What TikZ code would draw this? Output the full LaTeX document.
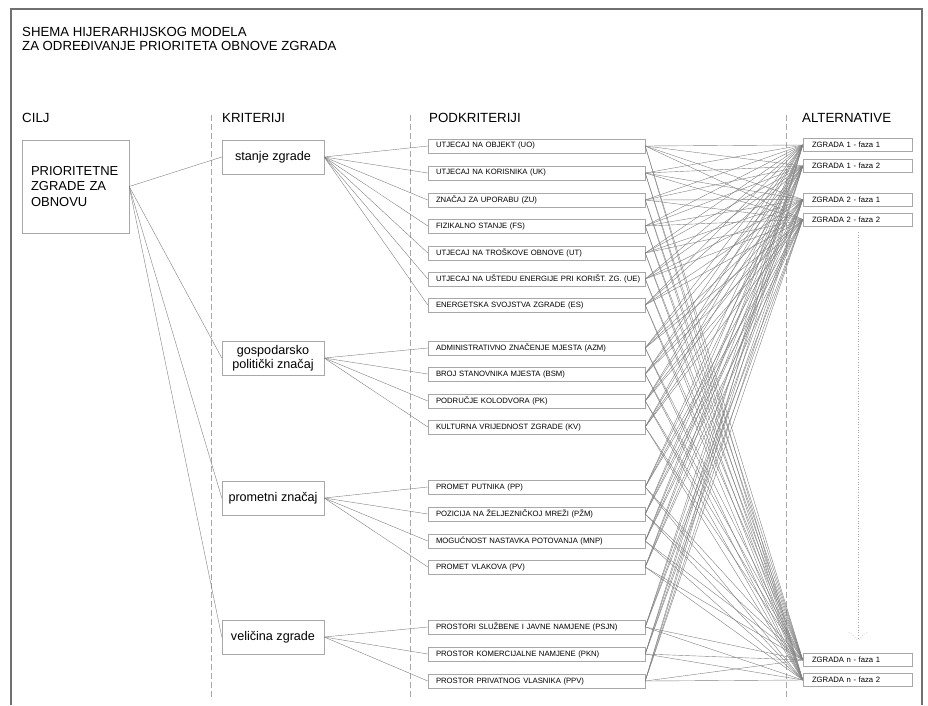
\documentclass[tikz,border=0pt]{standalone}
\usepackage{fontspec}
\setmainfont{Liberation Sans}
\usetikzlibrary{positioning}
\definecolor{frame}{HTML}{707070}
\definecolor{boxline}{HTML}{A8A8A8}
\definecolor{link}{HTML}{808080}
\definecolor{guide}{HTML}{A8A8A8}

\begin{document}
\begin{tikzpicture}[
  x=1pt, y=-1pt,
  ttl/.style={anchor=base west, inner sep=0pt, font=\fontsize{13.2}{14.5}\selectfont},
  hdr/.style={anchor=base west, inner sep=0pt, font=\fontsize{13.3}{14}\selectfont},
  goal/.style={draw=boxline, text width=89pt, inner xsep=9pt, minimum height=93pt,
               align=left, font=\fontsize{13}{15.3}\selectfont},
  crit/.style={draw=boxline, minimum width=102pt, minimum height=34pt, inner sep=0pt,
               align=center, font=\fontsize{12.6}{14}\selectfont},
  sub/.style={draw=boxline, text width=201pt, inner xsep=8pt, inner ysep=0pt,
              minimum height=14pt, align=left, font=\fontsize{7.7}{9}\selectfont},
  alt/.style={draw=boxline, text width=91pt, inner xsep=9pt, inner ysep=0pt,
              minimum height=13pt, align=left, font=\fontsize{7.7}{9}\selectfont},
  lnk/.style={draw=link, line width=0.4pt},
  guideline/.style={guide, line width=0.6pt, dash pattern=on 6pt off 3pt}
]
  \useasboundingbox (0,0) rectangle (928,705);

  % Frame
  \draw[frame, line width=1.3pt] (11,705) -- (11,9) -- (922,9) -- (922,705);

  % Title
  \node[ttl] (title1) at (22,36) {SHEMA HIJERARHIJSKOG MODELA};
  \node[ttl] (title2) at (22,50.5) {ZA ODREĐIVANJE PRIORITETA OBNOVE ZGRADA};

  % Column headers and guides
  \node[hdr] (hcilj) at (22,122.5) {CILJ};
  \node[hdr] (hkrit) at (222,122.5) {KRITERIJI};
  \node[hdr] (hpod) at (429,122.5) {PODKRITERIJI};
  \node[hdr] (halt) at (802,122.5) {ALTERNATIVE};
  \draw[guideline] (211,115) -- (211,697);
  \draw[guideline] (410,115) -- (410,697);
  \draw[guideline] (786,115) -- (786,697);

  % Goal
  \node[goal] (cilj) at (75.5,186.5) {PRIORITETNE\\ZGRADE ZA\\OBNOVU};

  % Criteria
  \node[crit] (stanje) at (273,157) {stanje zgrade};
  \node[crit] (gosp) at (273,358) {gospodarsko\\politički značaj};
  \node[crit] (promet) at (273,498) {prometni značaj};
  \node[crit] (velicina) at (273,637) {veličina zgrade};

  % Subcriteria
  \node[sub] (uo) at (536.5,146) {UTJECAJ NA OBJEKT (UO)};
  \node[sub] (uk) at (536.5,173) {UTJECAJ NA KORISNIKA (UK)};
  \node[sub] (zu) at (536.5,200) {ZNAČAJ ZA UPORABU (ZU)};
  \node[sub] (fs) at (536.5,226) {FIZIKALNO STANJE (FS)};
  \node[sub] (ut) at (536.5,253) {UTJECAJ NA TROŠKOVE OBNOVE (UT)};
  \node[sub] (ue) at (536.5,279) {\mbox{UTJECAJ NA UŠTEDU ENERGIJE PRI KORIŠT. ZG. (UE)}};
  \node[sub] (es) at (536.5,305) {ENERGETSKA SVOJSTVA ZGRADE (ES)};

  \node[sub] (azm) at (536.5,348) {ADMINISTRATIVNO ZNAČENJE MJESTA (AZM)};
  \node[sub] (bsm) at (536.5,374) {BROJ STANOVNIKA MJESTA (BSM)};
  \node[sub] (pk) at (536.5,401) {PODRUČJE KOLODVORA (PK)};
  \node[sub] (kv) at (536.5,427) {KULTURNA VRIJEDNOST ZGRADE (KV)};

  \node[sub] (pp) at (536.5,487) {PROMET PUTNIKA (PP)};
  \node[sub] (pzm) at (536.5,514) {POZICIJA NA ŽELJEZNIČKOJ MREŽI (PŽM)};
  \node[sub] (mnp) at (536.5,541) {MOGUĆNOST NASTAVKA POTOVANJA (MNP)};
  \node[sub] (pv) at (536.5,567) {PROMET VLAKOVA (PV)};

  \node[sub] (psjn) at (536.5,627) {PROSTORI SLUŽBENE I JAVNE NAMJENE (PSJN)};
  \node[sub] (pkn) at (536.5,654) {PROSTOR KOMERCIJALNE NAMJENE (PKN)};
  \node[sub] (ppv) at (536.5,681) {PROSTOR PRIVATNOG VLASNIKA (PPV)};

  % Alternatives
  \node[alt] (z1a) at (857.5,145) {ZGRADA 1 - faza 1};
  \node[alt] (z1b) at (857.5,166) {ZGRADA 1 - faza 2};
  \node[alt] (z2a) at (857.5,199.5) {ZGRADA 2 - faza 1};
  \node[alt] (z2b) at (857.5,219.5) {ZGRADA 2 - faza 2};
  \node[alt] (zna) at (857.5,660) {ZGRADA n - faza 1};
  \node[alt] (znb) at (857.5,680) {ZGRADA n - faza 2};

  % Dotted continuation
  \coordinate (dotstart) at (858,232);
  \coordinate (dotend) at (858,640);
  \draw[guide, dotted, line width=0.6pt] (dotstart) -- (dotend);
  \draw[guide, dotted, line width=0.6pt] (dotend) ++(-9,-8) -- (dotend) -- ++(9,-8);

  % Goal -> criteria
  \foreach \k in {stanje,gosp,promet,velicina}
    \draw[lnk] (cilj.east) -- (\k.west);

  % Criteria -> subcriteria
  \foreach \s in {uo,uk,zu,fs,ut,ue,es}
    \draw[lnk] (stanje.east) -- (\s.west);
  \foreach \s in {azm,bsm,pk,kv}
    \draw[lnk] (gosp.east) -- (\s.west);
  \foreach \s in {pp,pzm,mnp,pv}
    \draw[lnk] (promet.east) -- (\s.west);
  \foreach \s in {psjn,pkn,ppv}
    \draw[lnk] (velicina.east) -- (\s.west);

  % Subcriteria -> alternatives
  \foreach \s in {uo,uk,zu,fs,ut,ue,es,azm,bsm,pk,kv,pp,pzm,mnp,pv,psjn,pkn,ppv}
    \foreach \a in {z1a,z1b,z2a,z2b,zna,znb}
      \draw[lnk] (\s.east) -- (\a.west);
\end{tikzpicture}
\end{document}
